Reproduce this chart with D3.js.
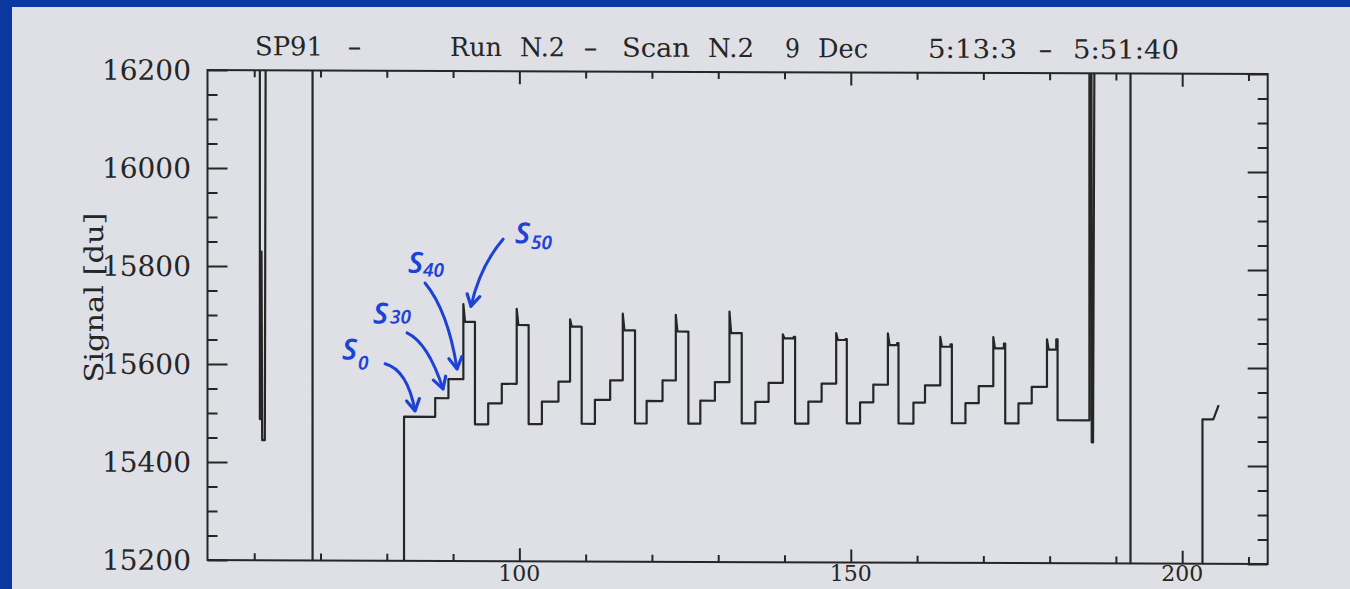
<!DOCTYPE html>
<html><head><meta charset="utf-8">
<script src="https://cdn.jsdelivr.net/npm/d3@7"></script>
<style>html,body{margin:0;padding:0;background:#dee0e5;overflow:hidden}</style>
</head><body>
<svg id="chart" width="1350" height="589"></svg>
<script>
// ---------------- data ----------------
const xDomain = [52.95, 212.9];
const yDomain = [15200, 16200];
const yMajorTicks = [15200, 15400, 15600, 15800, 16000, 16200];
const yTickLabels = ["15200", "15400", "15600", "15800", "16000", "16200"];
const yMinorTicks = [15250, 15300, 15350, 15450, 15500, 15550, 15650, 15700, 15750, 15850, 15900, 15950, 16050, 16100, 16150];
const xMajorTicks = [100, 150, 200];
const xTickLabels = ["100", "150", "200"];
const xMinorTicks = [60, 70, 80, 90, 110, 120, 130, 140, 160, 170, 180, 190, 210];

const HI = 16400, LO = 15000; // off-scale values (clipped)

// trace before the modulation cycles
const leadTrace = [[52.95, HI], [60.85, HI], [60.85, 15488], [60.95, 15488], [61.1, 15830], [61.2, 15445], [61.6, 15445], [61.75, HI],
  [68.8, HI], [68.8, LO], [82.6, LO], [82.6, 15494], [87.3, 15494]];

// modulation cycles (S30, S40, S50 steps, then back to low)
const step1X   = [87.3, 95.3, 103.4, 111.4, 119.2, 127.3, 135.6, 143.6, 151.4, 159.45, 167.3, 175.3];
const level1   = [15532, 15522, 15526, 15530, 15528, 15529, 15527, 15528, 15527, 15527, 15526, 15526];
const step2X   = [89.3, 97.35, 105.9, 113.7, 121.6, 129.5, 137.6, 145.6, 153.4, 161.2, 169.3, 177.3];
const level2   = [15571, 15562, 15567, 15570, 15570, 15567, 15566, 15565, 15563, 15562, 15561, 15560];
const peakX    = [91.55, 99.6, 107.65, 115.6, 123.6, 131.7, 139.75, 147.8, 155.6, 163.5, 171.5, 179.6];
const spikeVal = [15724, 15715, 15694, 15706, 15704, 15711, 15665, 15668, 15668, 15661, 15661, 15657];
const settleX  = [91.8, 99.85, 107.9, 115.85, 123.85, 131.95, 140.0, 148.05, 155.85, 163.75, 171.75, 179.85];
const settleVal= [15688, 15682, 15679, 15672, 15670, 15667, 15657, 15654, 15644, 15641, 15638, 15636];
const endX     = [93.1, 101.2, 109.2, 117.25, 125.3, 133.35, 141.4, 149.2, 157.0, 165.05, 173.1, 181.0];
const endVal   = [15688, 15682, 15679, 15672, 15670, 15667, 15660, 15656, 15648, 15646, 15648, 15657];
const dropX    = [93.3, 101.4, 109.4, 117.45, 125.5, 133.55, 141.6, 149.4, 157.2, 165.25, 173.3, 181.2];
const lowVal   = [15479, 15480, 15481, 15482, 15482, 15483, 15483, 15484, 15484, 15485, 15485, 15492];

// trace after the cycles
const trailTrace = [[186.0, 15492], [186.0, HI], [186.3, HI], [186.35, 15447], [186.55, 15447], [186.8, HI],
  [192.2, HI], [192.2, LO], [203.06, LO], [203.06, 15495], [204.7, 15495], [205.5, 15524]];

// title pieces
const titleWords = ["SP91", "-", "Run", "N.2", "-", "Scan", "N.2", "9", "Dec", "5:13:3", "-", "5:51:40"];
const yAxisTitle = "Signal [du]";

// hand-written annotations (data coordinates)
const annoMain = ["S", "S", "S", "S"];
const annoSub = ["0", "30", "40", "50"];
const annoMainX = [73.25, 77.92, 83.2, 99.35];
const annoMainY = [15610, 15684, 15788, 15849];
const annoSubX = [75.66, 80.49, 85.47, 101.77];
const annoSubY = [15590, 15684, 15780, 15837];
const arrowStart = [[79.74, 15602], [83.05, 15665], [85.77, 15767], [97.54, 15857]];
const arrowCtrl  = [[83.1, 15590], [86.22, 15645], [89.24, 15710], [94.07, 15802]];
const arrowEnd   = [[84.26, 15506], [88.48, 15551], [90.6, 15592], [92.7, 15720]];

// ---------------- layout ----------------
const W = 1350, H = 589;
const plot = {left: 207.5, right: 1267.7, top: 70, bottom: 560};
const ink = "#262626";
const blue = "#1d43d6";

const svg = d3.select("#chart");
svg.append("rect").attr("width", W).attr("height", H).attr("fill", "#dee0e5");

const skewDeg = 0.22;
const t = Math.tan(skewDeg * Math.PI / 180);
const g = svg.append("g").attr("transform", `translate(0,${-plot.left * t}) skewY(${skewDeg})`);

const x = d3.scaleLinear().domain(xDomain).range([plot.left, plot.right]);
const y = d3.scaleLinear().domain(yDomain).range([plot.bottom, plot.top]);

// clip
svg.append("defs").append("clipPath").attr("id", "clip")
  .append("rect").attr("x", plot.left).attr("y", plot.top)
  .attr("width", plot.right - plot.left).attr("height", plot.bottom - plot.top);

// build trace
const trace = leadTrace.slice();
for (let k = 0; k < peakX.length; k++) {
  if (k > 0) trace.push([step1X[k], lowVal[k - 1]]);
  trace.push([step1X[k], level1[k]], [step2X[k], level1[k]], [step2X[k], level2[k]],
    [peakX[k], level2[k]], [peakX[k], spikeVal[k]], [settleX[k], settleVal[k]],
    [endX[k], settleVal[k]], [endX[k], endVal[k]], [dropX[k], endVal[k]], [dropX[k], lowVal[k]]);
}
trailTrace.forEach(p => trace.push(p));

g.append("path")
  .attr("clip-path", "url(#clip)")
  .attr("d", d3.line().x(d => x(d[0])).y(d => y(d[1]))(trace))
  .attr("fill", "none").attr("stroke", ink).attr("stroke-width", 2.2)
  .attr("stroke-linejoin", "round");

// axes (ticks inward)
function styleAxis(sel) {
  sel.select(".domain").remove();
  sel.selectAll("line").attr("stroke", ink).attr("stroke-width", 2);
  sel.selectAll("text").remove();
}
g.append("g").attr("transform", `translate(${plot.left},0)`)
  .call(d3.axisLeft(y).tickValues(yMajorTicks).tickSize(-20)).call(styleAxis);
g.append("g").attr("transform", `translate(${plot.left},0)`)
  .call(d3.axisLeft(y).tickValues(yMinorTicks).tickSize(-10)).call(styleAxis);
g.append("g").attr("transform", `translate(${plot.right},0)`)
  .call(d3.axisRight(y).tickValues(yMajorTicks).tickSize(-20)).call(styleAxis);
g.append("g").attr("transform", `translate(${plot.right},0)`)
  .call(d3.axisRight(y).tickValues(yMinorTicks).tickSize(-10)).call(styleAxis);
g.append("g").attr("transform", `translate(0,${plot.bottom})`)
  .call(d3.axisBottom(x).tickValues(xMajorTicks).tickSize(-13)).call(styleAxis);
g.append("g").attr("transform", `translate(0,${plot.bottom})`)
  .call(d3.axisBottom(x).tickValues(xMinorTicks).tickSize(-7)).call(styleAxis);
g.append("g").attr("transform", `translate(0,${plot.top})`)
  .call(d3.axisTop(x).tickValues(xMajorTicks).tickSize(-13)).call(styleAxis);
g.append("g").attr("transform", `translate(0,${plot.top})`)
  .call(d3.axisTop(x).tickValues(xMinorTicks).tickSize(-7)).call(styleAxis);

// frame
g.append("rect").attr("x", plot.left).attr("y", plot.top)
  .attr("width", plot.right - plot.left).attr("height", plot.bottom - plot.top)
  .attr("fill", "none").attr("stroke", ink).attr("stroke-width", 2);

// tick labels
const font = "'DejaVu Serif', 'Liberation Serif', serif";
g.selectAll(".ylab").data(yMajorTicks).enter().append("text")
  .attr("x", 191).attr("y", d => y(d)).attr("dy", "0.36em")
  .attr("text-anchor", "end").attr("font-family", font).attr("font-size", 28)
  .attr("fill", ink).text((d, i) => yTickLabels[i]);
// x labels kept unskewed so they stay fully inside the picture
svg.selectAll(".xlab").data(xMajorTicks).enter().append("text")
  .attr("x", d => x(d)).attr("y", 581)
  .attr("text-anchor", "middle").attr("font-family", font).attr("font-size", 22)
  .attr("fill", ink).text((d, i) => xTickLabels[i]);

// title
const titleX = [255, 347, 450, 520, 583, 622, 708, 785, 818, 928, 1038, 1073];
const titleLen = [68, 15, 52, 45, 15, 68, 46, 15, 50, 89, 15, 106];
g.selectAll(".title").data(titleWords).enter().append("text")
  .attr("x", (d, i) => titleX[i]).attr("y", 55)
  .attr("font-family", font).attr("font-size", 26).attr("fill", ink)
  .attr("textLength", (d, i) => titleLen[i]).attr("lengthAdjust", "spacingAndGlyphs")
  .text(d => d);

// y axis title
g.append("text").attr("transform", "translate(103,298) rotate(-90)")
  .attr("text-anchor", "middle").attr("font-family", font).attr("font-size", 26)
  .attr("fill", ink).attr("textLength", 170).attr("lengthAdjust", "spacingAndGlyphs")
  .text(yAxisTitle);

// annotations
const ann = g.append("g");
annoMain.forEach((s, i) => {
  ann.append("text").attr("x", x(annoMainX[i])).attr("y", y(annoMainY[i]))
    .attr("font-family", "'Noto Sans', sans-serif").attr("font-style", "italic")
    .attr("font-weight", 600).attr("font-size", 29).attr("fill", blue).text(s);
  ann.append("text").attr("x", x(annoSubX[i])).attr("y", y(annoSubY[i]))
    .attr("font-family", "'Noto Sans', sans-serif").attr("font-style", "italic")
    .attr("font-weight", 600).attr("font-size", 19).attr("fill", blue).text(annoSub[i]);
  const s0 = [x(arrowStart[i][0]), y(arrowStart[i][1])];
  const c0 = [x(arrowCtrl[i][0]), y(arrowCtrl[i][1])];
  const e0 = [x(arrowEnd[i][0]), y(arrowEnd[i][1])];
  const p = d3.path();
  p.moveTo(s0[0], s0[1]); p.quadraticCurveTo(c0[0], c0[1], e0[0], e0[1]);
  ann.append("path").attr("d", p.toString()).attr("fill", "none")
    .attr("stroke", blue).attr("stroke-width", 3).attr("stroke-linecap", "round");
  const dx = e0[0] - c0[0], dy = e0[1] - c0[1];
  const L = Math.hypot(dx, dy), ux = dx / L, uy = dy / L;
  const len = 13, a = 30 * Math.PI / 180;
  const arms = [a, -a].map(th => [e0[0] - len * (ux * Math.cos(th) - uy * Math.sin(th)),
                                   e0[1] - len * (ux * Math.sin(th) + uy * Math.cos(th))]);
  const h = d3.path();
  h.moveTo(arms[0][0], arms[0][1]); h.lineTo(e0[0], e0[1]); h.lineTo(arms[1][0], arms[1][1]);
  ann.append("path").attr("d", h.toString()).attr("fill", "none")
    .attr("stroke", blue).attr("stroke-width", 3.2).attr("stroke-linecap", "round").attr("stroke-linejoin", "round");
});

// blue slide border
svg.append("rect").attr("x", 0).attr("y", 0).attr("width", 12).attr("height", H).attr("fill", "#0a37a0");
svg.append("rect").attr("x", 0).attr("y", 0).attr("width", W).attr("height", 7).attr("fill", "#0a37a0");
</script>
</body></html>
